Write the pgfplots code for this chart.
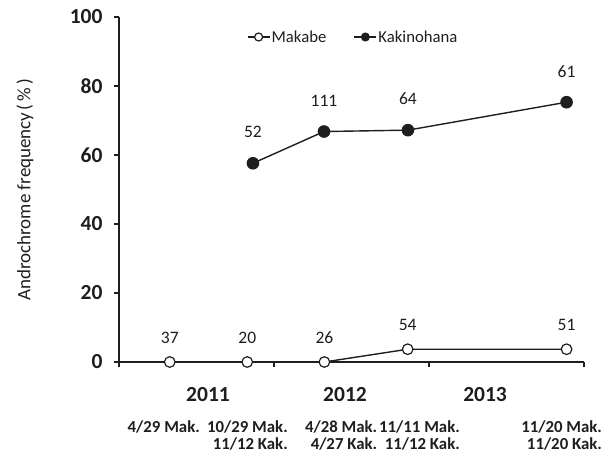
\documentclass[border=0pt]{standalone}
\usepackage{fontspec}
\setmainfont{Carlito}
\usepackage{pgfplots}
\pgfplotsset{compat=1.18}
\usepackage{pgfplotstable}
\definecolor{ink}{HTML}{1E1E1E}

\pgfplotstableread{
x y lab
3.93 0 37
9.93 0 20
15.9 0 26
22.35 3.7 54
34.65 3.7 51
}\makabe
\pgfplotstableread{
x y lab
10.37 57.6 52
15.87 66.8 111
22.37 67.2 64
34.65 75.3 61
}\kakino

\begin{document}
\begin{tikzpicture}
\begin{axis}[
  at={(0,0)}, anchor=south west,
  scale only axis, width=465pt, height=345pt,
  xmin=0, xmax=36, ymin=0, ymax=100,
  axis lines=left, axis line style={-, ink, line width=1.2pt},
  xtick={0,12,24,36}, xticklabels={},
  ytick={0,20,...,100},
  tick align=outside, major tick length=5pt,
  tick style={ink, line width=1.2pt},
  /pgf/number format/assume math mode=true,
  yticklabel style={font=\fontsize{21.5}{24}\selectfont\bfseries, text=ink, xshift=-8pt},
  ylabel={Androchrome frequency\hspace{0.12em}(\hspace{0.18em}\%\hspace{0.18em})},
  ylabel style={font=\fontsize{19}{22}\selectfont, text=ink, at={(axis description cs:-0.202,0.5)}, anchor=center},
  clip=false,
  legend style={at={(0.275,0.942)}, anchor=west, draw=none, fill=none,
    font=\fontsize{16.7}{20}\selectfont, text=ink, inner sep=0pt,
    nodes={inner sep=1.5pt},
    /tikz/every even column/.append style={column sep=26pt}},
  legend columns=2,
  legend cell align=left,
  legend image code/.code={\draw[mark repeat=2,mark phase=2,#1,mark size=4pt,line width=1.1pt] plot coordinates {(0pt,0pt)(11pt,0pt)(22pt,0pt)};},
]
\addplot[ink, line width=1.4pt, mark=*, mark size=5.3pt,
  mark options={fill=white, line width=1.2pt},
  nodes near coords, point meta=explicit symbolic,
  every node near coord/.append style={anchor=center, yshift=24pt, font=\fontsize{17.5}{20}\selectfont, text=ink}]
  table[x=x,y=y,meta=lab]{\makabe};
\addlegendentry{Makabe}
\addplot[ink, line width=1.4pt, mark=*, mark size=5.8pt,
  mark options={fill=ink, line width=1pt},
  nodes near coords, point meta=explicit symbolic,
  every node near coord/.append style={anchor=center, yshift=31pt, font=\fontsize{17.5}{20}\selectfont, text=ink}]
  table[x=x,y=y,meta=lab]{\kakino};
\addlegendentry{Kakinohana}

\tikzset{yr/.style={font=\fontsize{21.5}{24}\selectfont\bfseries, text=ink, inner sep=0pt},
         dt/.style={font=\fontsize{16.8}{20}\selectfont\bfseries, text=ink, inner sep=0pt, anchor=base east}}
\node[yr, yshift=-33pt] at (axis cs:6.89,0) {2011};
\node[yr, yshift=-33pt] at (axis cs:17.5,0) {2012};
\node[yr, yshift=-33pt] at (axis cs:28.34,0) {2013};

\node[dt, yshift=-71pt] at (axis cs:6.27,0) {4/29 Mak.};
\node[dt, yshift=-71pt] at (axis cs:13.08,0) {10/29 Mak.};
\node[dt, yshift=-88pt] at (axis cs:13.08,0) {11/12 Kak.};
\node[dt, yshift=-71pt] at (axis cs:20.0,0) {4/28 Mak.};
\node[dt, yshift=-88pt] at (axis cs:20.0,0) {4/27 Kak.};
\node[dt, yshift=-71pt] at (axis cs:26.4,0) {11/11 Mak.};
\node[dt, yshift=-88pt] at (axis cs:26.4,0) {11/12 Kak.};
\node[dt, yshift=-71pt] at (axis cs:37.4,0) {11/20 Mak.};
\node[dt, yshift=-88pt] at (axis cs:37.4,0) {11/20 Kak.};
\end{axis}
\pgfresetboundingbox
\path[use as bounding box] (-119pt,-92pt) rectangle (486pt,362pt);
\end{tikzpicture}
\end{document}
